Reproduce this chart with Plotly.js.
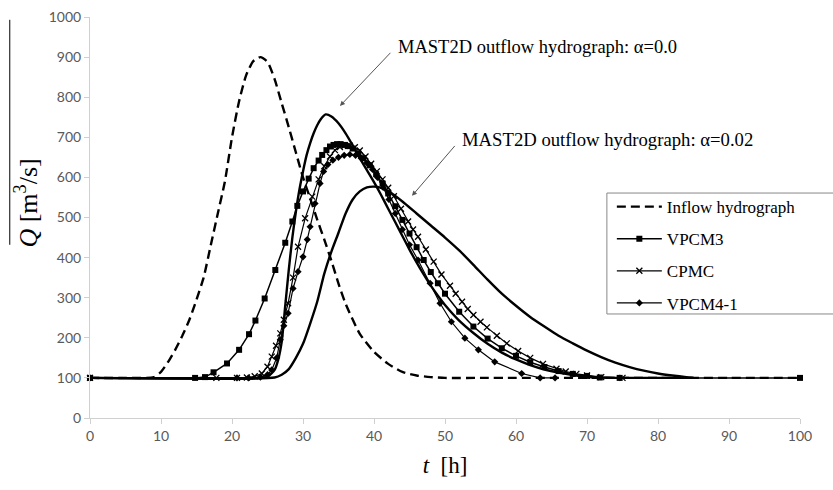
<!DOCTYPE html>
<html>
<head>
<meta charset="utf-8">
<script src="https://cdn.plot.ly/plotly-3.0.1.min.js"></script>
<style>html,body{margin:0;padding:0;background:#fff;}#chart{width:833px;height:490px;}</style>
</head>
<body>
<div id="chart"></div>
<script>
// Inflow hydrograph
const inflowT = [0, 5, 9, 10, 11, 12, 13, 14, 15, 16, 17, 18, 19, 20, 21, 22, 23, 24, 25, 26, 27, 28, 29, 30, 31, 32, 33, 34, 35, 36, 38, 40, 42, 44, 46, 48, 50, 55, 60, 70, 80, 90, 100];
const inflowQ = [100, 100, 102, 115, 140, 170, 205, 245, 295, 350, 430, 510, 590, 700, 790, 855, 890, 900, 888, 845, 785, 725, 662, 600, 548, 495, 445, 392, 335, 285, 210, 165, 135, 115, 106, 102, 100, 100, 100, 100, 100, 100, 100];

// VPCM3
const vpcm3T = [0, 14.8, 16.2, 17.4, 19.3, 21, 22.4, 23.3, 24.6, 26.1, 27.5, 28.5, 29.2, 30, 30.8, 31.5, 32.2, 32.7, 33.3, 33.8, 34.3, 34.8, 35.3, 35.8, 36.3, 37, 37.8, 38.5, 39.4, 40.3, 41.2, 42, 43, 44, 45, 46, 47, 48, 49, 50, 52, 54, 56, 58, 60, 62, 64, 66, 68, 70, 71.8, 74.6, 100];
const vpcm3Q = [100, 100, 102, 114, 136, 170, 209, 243, 298, 369, 437, 490, 529, 565, 597, 623, 642, 656, 668, 677, 681, 683, 683, 681, 678, 672, 660, 648, 630, 608, 585, 560, 528, 494, 460, 426, 394, 364, 336, 310, 265, 228, 198, 174, 155, 139, 127, 117, 110, 105, 101, 100, 100];

// CPMC
const cpmcT = [0, 17.8, 20.7, 22.1, 23.2, 24.2, 25, 25.6, 26.2, 26.8, 27.3, 27.9, 28.6, 29.3, 30.3, 31.3, 32.2, 33, 33.8, 34.5, 35.2, 35.9, 36.6, 37.3, 38, 38.8, 39.6, 40.4, 41.2, 42, 42.8, 43.8, 44.8, 45.5, 46.2, 47.3, 48.4, 49.5, 50.7, 51.5, 52.4, 53.2, 54, 55, 55.9, 57.3, 58.7, 60.3, 62, 63.8, 65.7, 67, 68.5, 70, 72, 75];
const cpmcQ = [100, 100, 100, 101, 104, 111, 128, 153, 180, 211, 245, 286, 350, 427, 498, 552, 595, 628, 652, 668, 676, 680, 679, 675, 667, 652, 634, 615, 595, 574, 553, 522, 490, 470, 452, 420, 390, 358, 330, 310, 290, 272, 257, 240, 226, 205, 186, 167, 150, 135, 123, 116, 110, 106, 102, 100];

// VPCM4-1
const vpcm41T = [0, 20.7, 22.3, 24, 25, 25.6, 26.3, 26.8, 27.3, 27.9, 28.6, 29.3, 30, 30.6, 31, 31.7, 32.4, 32.9, 33.5, 34.2, 35, 35.8, 36.6, 37.4, 38.2, 39, 39.8, 40.5, 41.3, 42.1, 43, 44, 45, 46.2, 47.9, 49.3, 50.9, 52.8, 54.7, 57, 60.8, 63.4, 65.5];
const vpcm41Q = [100, 100, 100, 102, 108, 120, 150, 195, 230, 261, 323, 365, 402, 445, 477, 535, 585, 615, 632, 643, 650, 655, 657, 655, 648, 636, 620, 600, 575, 545, 510, 470, 432, 394, 336, 286, 240, 199, 170, 140, 111, 100, 100];

// MAST2D alpha = 0.0
const mast0T = [0, 24, 25, 26, 26.5, 27, 27.5, 28, 28.5, 29, 29.5, 30, 30.5, 31, 31.5, 32, 32.5, 33.2, 34, 35, 36, 37, 38, 39, 40, 41, 42, 43, 44, 45, 46, 47, 48, 49, 50, 52, 54, 56, 58, 60, 62, 64, 66, 68, 70, 72, 74, 85];
const mast0Q = [100, 100, 103, 120, 145, 190, 280, 370, 450, 515, 570, 615, 655, 685, 710, 730, 745, 757, 752, 735, 710, 680, 648, 618, 588, 556, 522, 488, 454, 420, 388, 358, 330, 305, 282, 243, 212, 185, 163, 146, 132, 121, 113, 107, 103, 101, 100, 100];

// MAST2D alpha = 0.02
const mast02T = [0, 26, 27, 28, 29, 30, 31, 32, 33, 34, 35, 36, 37, 38, 39, 40, 41, 42, 44, 46, 48, 50, 52, 54, 56, 58, 60, 62, 64, 66, 68, 70, 72, 74, 76, 78, 80, 82, 84, 85];
const mast02Q = [100, 101, 108, 122, 150, 185, 235, 290, 360, 415, 462, 510, 545, 565, 575, 577, 574, 566, 540, 510, 480, 450, 418, 382, 345, 310, 280, 252, 228, 205, 186, 168, 152, 138, 127, 118, 111, 106, 102, 100];

const legendNames = ['Inflow hydrograph', 'VPCM3', 'CPMC', 'VPCM4-1'];
const annoTexts = ['MAST2D outflow hydrograph: α=0.0', 'MAST2D outflow hydrograph: α=0.02'];
const xTicks = [0, 10, 20, 30, 40, 50, 60, 70, 80, 90, 100];
const yTicks = [0, 100, 200, 300, 400, 500, 600, 700, 800, 900, 1000];

const traces = [
  {x: mast0T, y: mast0Q, mode: 'lines', line: {color: '#000', width: 2.4, shape: 'spline', smoothing: 0.6}, showlegend: false, cliponaxis: false, hoverinfo: 'skip'},
  {x: mast02T, y: mast02Q, mode: 'lines', line: {color: '#000', width: 2.4, shape: 'spline', smoothing: 0.6}, showlegend: false, cliponaxis: false, hoverinfo: 'skip'},
  {x: inflowT, y: inflowQ, name: legendNames[0], legendgroup: 'g1', mode: 'lines', line: {color: '#000', width: 2.4, dash: '9px,5px', shape: 'spline', smoothing: 0.6}, cliponaxis: false},
  {x: vpcm3T, y: vpcm3Q, name: legendNames[1], legendgroup: 'g2', mode: 'lines+markers', line: {color: '#000', width: 1.5}, marker: {symbol: 'square', size: 6, color: '#000'}, cliponaxis: false},
  {x: cpmcT, y: cpmcQ, name: legendNames[2], legendgroup: 'g3', mode: 'lines+markers', line: {color: '#000', width: 1.2}, marker: {symbol: 'x-thin', size: 6, color: '#000', line: {color: '#000', width: 1.3}}, cliponaxis: false},
  {x: vpcm41T, y: vpcm41Q, name: legendNames[3], legendgroup: 'g4', mode: 'lines+markers', line: {color: '#000', width: 1.2}, marker: {symbol: 'diamond', size: 5.5, color: '#000'}, cliponaxis: false}
];

const serif = '"Liberation Serif", "Times New Roman", serif';
const tickFont = {family: 'Lato, "Open Sans", sans-serif', size: 14, color: '#595959'};

const layout = {
  width: 833, height: 490,
  margin: {l: 90, r: 33, t: 17, b: 72},
  paper_bgcolor: '#fff', plot_bgcolor: '#fff',
  xaxis: {
    range: [0, 100], tickvals: xTicks, ticktext: xTicks.map(String),
    showgrid: false, zeroline: false, showline: true, linecolor: '#d0d0d0', linewidth: 1,
    ticks: 'outside', ticklen: 5, tickcolor: '#d0d0d0', tickfont: tickFont,
    title: {text: '<i>t</i>  [h]', font: {family: serif, size: 23, color: '#000'}, standoff: 14}
  },
  yaxis: {
    range: [0, 1000], tickvals: yTicks, ticktext: yTicks.map(String),
    showgrid: false, zeroline: false, showline: true, linecolor: '#d0d0d0', linewidth: 1,
    ticks: 'outside', ticklen: 5, tickcolor: '#d0d0d0', tickfont: tickFont
  },
  legend: {
    x: 0.735, y: 0.571, xanchor: 'left', yanchor: 'top',
    bgcolor: 'rgba(0,0,0,0)', borderwidth: 0,
    font: {family: serif, size: 17, color: '#000'},
    tracegroupgap: 7, itemwidth: 45
  },
  shapes: [
    {type: 'line', xref: 'paper', yref: 'paper', x0: -0.113, x1: -0.113, y0: 0.993, y1: 0.432, line: {color: '#000', width: 1}},
    {type: 'rect', xref: 'paper', yref: 'paper', x0: 0.728, x1: 1.06, y0: 0.2594, y1: 0.561, layer: 'above', fillcolor: '#fff', line: {color: '#888', width: 1}}
  ],
  annotations: [
    {x: -0.09, y: 0.535, xref: 'paper', yref: 'paper', xanchor: 'center', yanchor: 'middle', text: '<i>Q</i> [m<sup>3</sup>/s]', textangle: -90, showarrow: false, font: {family: serif, size: 26, color: '#000'}},
    {x: 35.2, y: 778, xref: 'x', yref: 'y', ax: 56, ay: -59, text: annoTexts[0], showarrow: true, arrowhead: 2, arrowsize: 1, arrowwidth: 1, arrowcolor: '#555', startstandoff: 8, xanchor: 'left', yanchor: 'middle', font: {family: serif, size: 18.5, color: '#000'}},
    {x: 45.35, y: 554, xref: 'x', yref: 'y', ax: 48, ay: -56, text: annoTexts[1], showarrow: true, arrowhead: 2, arrowsize: 1, arrowwidth: 1, arrowcolor: '#555', startstandoff: 8, xanchor: 'left', yanchor: 'middle', font: {family: serif, size: 18.7, color: '#000'}}
  ],
  showlegend: true
};

Plotly.newPlot('chart', traces, layout, {staticPlot: true, displayModeBar: false});
</script>
</body>
</html>
